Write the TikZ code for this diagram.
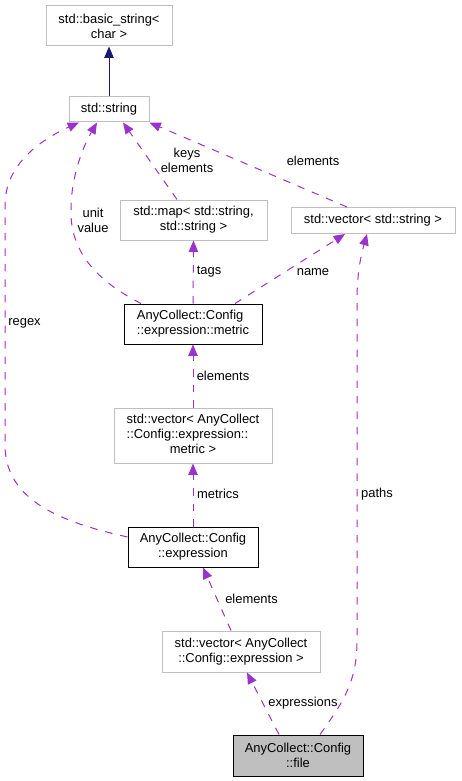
\documentclass[tikz,border=0pt]{standalone}
\usepackage{fontspec}
\setmainfont{Liberation Sans}
\usetikzlibrary{arrows.meta,calc}
\definecolor{edgepurple}{HTML}{9A32CD}
\definecolor{edgenavy}{HTML}{191970}
\definecolor{boxgray}{HTML}{BFBFBF}
\begin{document}
\begin{tikzpicture}[x=0.75pt,y=-0.75pt,
  every node/.style={font=\fontsize{9.7}{11.3}\selectfont, inner sep=0pt},
  lightbox/.style={draw=boxgray, line width=0.75pt, fill=white, align=center},
  darkbox/.style={draw=black, line width=0.75pt, fill=white, align=center},
  filebox/.style={draw=black, line width=0.75pt, fill=boxgray, align=center},
  member/.style={draw=edgepurple, line width=0.75pt, dash pattern=on 5.6pt off 6pt,
     -{Triangle[length=8.5pt,width=7pt]}},
  inherit/.style={draw=edgenavy, line width=0.75pt, -{Triangle[length=8.5pt,width=7pt]}},
  lbl/.style={align=center}
]
\useasboundingbox (0,0) rectangle (461,781);

\node[lightbox, minimum width=94.5pt, minimum height=30pt] (basic) at (109,26) {std::basic\_string<\\char >};
\node[lightbox, minimum width=60pt, minimum height=18.75pt] (string) at (109,109.5) {std::string};
\node[lightbox, minimum width=110.25pt, minimum height=30pt] (map) at (193.5,220) {std::map< std::string,\\std::string >};
\node[lightbox, minimum width=123pt, minimum height=19.5pt] (vstr) at (373,220.5) {std::vector< std::string >};
\node[darkbox, minimum width=103.5pt, minimum height=30pt] (metric) at (193,324) {\begin{tabular}{@{}l@{}}AnyCollect::Config\\::expression::metric\end{tabular}};
\node[lightbox, minimum width=118.5pt, minimum height=41.25pt] (vmetric) at (193,435.5) {\begin{tabular}{@{}l@{}}std::vector< AnyCollect\\::Config::expression::\\\multicolumn{1}{@{}c@{}}{metric >}\end{tabular}};
\node[darkbox, minimum width=97.5pt, minimum height=30pt] (expr) at (193,547) {AnyCollect::Config\\::expression};
\node[lightbox, minimum width=118.5pt, minimum height=30.75pt] (vexpr) at (241,651.5) {std::vector< AnyCollect\\::Config::expression >};
\node[filebox, minimum width=97.5pt, minimum height=30.75pt] (file) at (298,755.5) {AnyCollect::Config\\::file};

% edges
\draw[inherit] (string.north) -- (basic.south);
\draw[member] ($(map.north)+(-16.5,0)$) -- ($(string.south)+(14,0)$);
\draw[member] ($(vstr.north)+(-26,0)$) -- (string.south east);
\draw[member] ($(metric.north)+(-52,0)$) .. controls (95,280) and (70,250) .. (71,210)
   .. controls (71,175) and (84,145) .. ($(string.south)+(-12,0)$);
\draw[member] (metric.north) -- (map.south);
\draw[member] ($(metric.north)+(42,0)$) -- ($(vstr.south)+(-28,0)$);
\draw[member] ($(expr.west)+(0,-10)$) .. controls (60,522) and (5,500) .. (5,445)
   -- (5,205) .. controls (5,165) and (40,140) .. ($(string.south)+(-30,0)$);
\draw[member] (vmetric.north) -- (metric.south);
\draw[member] (expr.north) -- (vmetric.south);
\draw[member] ($(vexpr.north)+(-10,0)$) -- ($(expr.south)+(10,0)$);
\draw[member] ($(file.north)+(-19,0)$) -- ($(vexpr.south)+(6,0)$);
\draw[member] ($(file.north)+(22,0)$) .. controls (345,700) and (357,680) .. (357,640)
   -- (357,300) .. controls (357,270) and (362,252) .. ($(vstr.south)+(-6,0)$);

% labels
\node[lbl] (l1) at (187,160) {keys\\elements};
\node[lbl] (l2) at (313,161) {elements};
\node[lbl] (l3) at (93,220) {unit\\value};
\node[lbl] (l4) at (209,272) {tags};
\node[lbl] (l5) at (313,272) {name};
\node[lbl] (l6) at (24.5,323) {regex};
\node[lbl] (l7) at (223,376) {elements};
\node[lbl] (l8) at (218,494) {metrics};
\node[lbl] (l9) at (377,494) {paths};
\node[lbl] (l10) at (251.5,599) {elements};
\node[lbl] (l11) at (303,703) {expressions};
\end{tikzpicture}
\end{document}
